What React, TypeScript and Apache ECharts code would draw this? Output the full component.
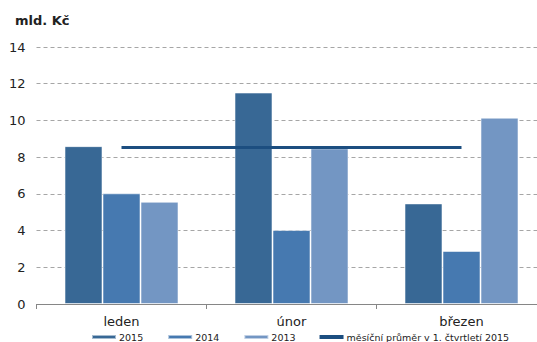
import React, { useEffect, useRef } from "react";
import * as echarts from "echarts";

const categories = ["leden", "únor", "březen"];
const values2015 = [8.6, 11.52, 5.48];
const values2014 = [6.03, 4.03, 2.89];
const values2013 = [5.57, 8.48, 10.15];
const averageLine = [8.52, 8.52, 8.52];
const yTicks = { min: 0, max: 14, interval: 2 };

export default function App() {
  const ref = useRef<HTMLDivElement>(null);
  useEffect(() => {
    if (!ref.current) return;
    const chart = echarts.init(ref.current, undefined, { renderer: "svg" });
    const font = "DejaVu Sans, Verdana, sans-serif";
    const barStyle = (color: string) => ({
      color,
      borderColor: "rgba(255,255,255,0.55)",
      borderWidth: 1,
    });
    chart.setOption({
      animation: false,
      textStyle: { fontFamily: font },
      title: {
        text: "mld. Kč",
        left: 10,
        top: 9,
        textStyle: { fontSize: 13, fontWeight: "bold", color: "#222", fontFamily: font },
      },
      grid: {
        left: 36.5,
        width: 510,
        top: 47,
        bottom: 38,
        containLabel: false,
        outerBoundsMode: "none",
      },
      legend: {
        left: 86,
        top: 327,
        itemWidth: 24,
        itemHeight: 4,
        itemGap: 24,
        textStyle: { fontSize: 9.5, color: "#222", fontFamily: font, padding: [0, 0, 0, -2] },
        data: [
          { name: "2015", icon: "rect" },
          { name: "2014", icon: "rect" },
          { name: "2013", icon: "rect" },
          { name: "měsíční průměr v 1. čtvrtletí 2015", icon: "rect" },
        ],
      },
      xAxis: {
        type: "category",
        data: categories,
        axisLine: { lineStyle: { color: "#868686", width: 1 } },
        axisTick: { show: true, alignWithLabel: false, length: 5, lineStyle: { color: "#868686" } },
        axisLabel: { fontSize: 13, color: "#222", margin: 11, fontFamily: font },
        splitLine: { show: false },
      },
      yAxis: {
        type: "value",
        min: yTicks.min,
        max: yTicks.max,
        interval: yTicks.interval,
        axisLine: { show: false },
        axisTick: { show: false },
        axisLabel: { fontSize: 13, color: "#222", margin: 11, fontFamily: font },
        splitLine: { lineStyle: { color: "#a6a6a6", type: [4, 3], width: 1 } },
      },
      series: [
        { name: "2015", type: "bar", data: values2015, barWidth: 38, barGap: "0%", itemStyle: barStyle("#386895") },
        { name: "2014", type: "bar", data: values2014, barWidth: 38, barGap: "0%", itemStyle: barStyle("#4679b0") },
        { name: "2013", type: "bar", data: values2013, barWidth: 38, barGap: "0%", itemStyle: barStyle("#7396c3") },
        {
          name: "měsíční průměr v 1. čtvrtletí 2015",
          type: "line",
          data: averageLine,
          symbol: "none",
          z: 10,
          lineStyle: { color: "#1c4e80", width: 3 },
          itemStyle: { color: "#1c4e80" },
        },
      ],
    });
    return () => chart.dispose();
  }, []);
  return <div ref={ref} style={{ width: 537, height: 342, position: "absolute", left: 0, top: 0 }} />;
}
